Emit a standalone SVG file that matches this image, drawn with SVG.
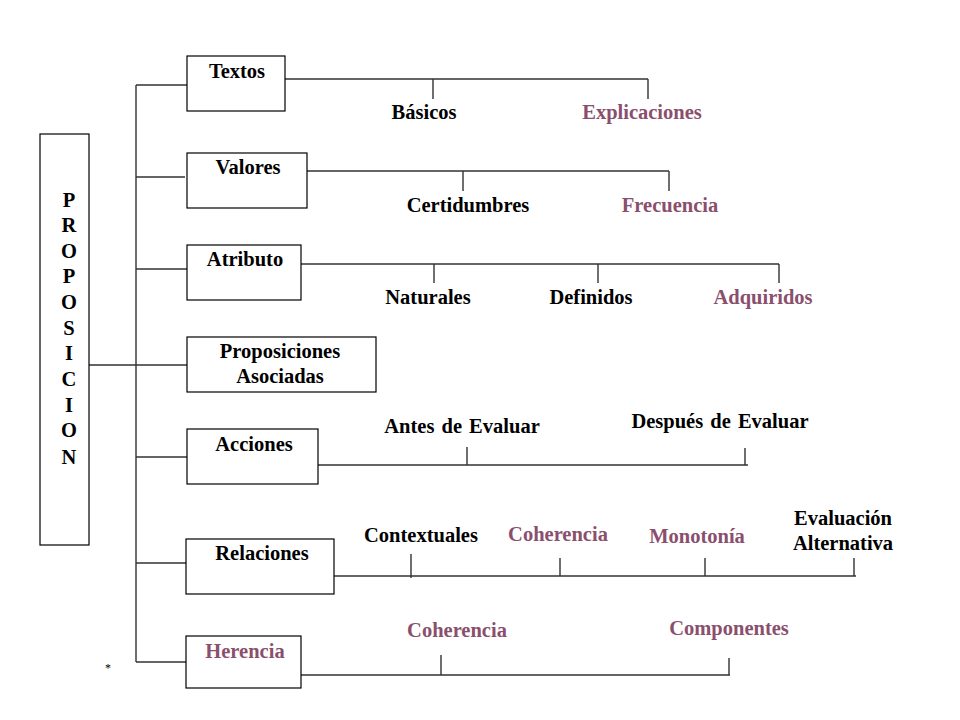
<svg xmlns="http://www.w3.org/2000/svg" width="960" height="720" viewBox="0 0 960 720">
<style>
.box{fill:#fff;stroke:#000;stroke-width:1.2}
.ln{stroke:#333;stroke-width:1.4;fill:none}
text{font-family:"Liberation Serif","Times New Roman",serif;font-weight:bold;font-size:20.5px;fill:#000;text-anchor:middle}
.p{fill:#8A4F6D}
</style>
<rect width="960" height="720" fill="#fff"/>
<g id="connectors">
<path class="ln" d="M136 85V662 M89 365H187 M136 85H187 M136 177H185 M136 269H187 M136 457H187 M136 563H186 M136 662H186"/>
<path class="ln" d="M285 79H648 M433 79V99 M648 79V99"/>
<path class="ln" d="M307 171H669 M463 171V191 M669 171V191"/>
<path class="ln" d="M301 264H779 M434 264V283 M598 264V283 M779 264V283"/>
<path class="ln" d="M318 465H748 M467 447V465 M745 448V465"/>
<path class="ln" d="M334 576H856 M411 554V578 M560 558V576 M705 558V576 M854 558V576"/>
<path class="ln" d="M301 675H730 M441 655V675 M729 658V675"/>
</g>
<g id="proposicion">
<rect class="box" x="40" y="134" width="49" height="411"/>
<text x="69" y="207">P</text>
<text x="69" y="232">R</text>
<text x="69" y="258">O</text>
<text x="69" y="283">P</text>
<text x="69" y="309">O</text>
<text x="69" y="335">S</text>
<text x="69" y="360">I</text>
<text x="69" y="386">C</text>
<text x="69" y="412">I</text>
<text x="69" y="437">O</text>
<text x="69" y="464">N</text>
</g>
<g id="textos"><rect class="box" x="187" y="56" width="98" height="55"/><text x="237" y="78">Textos</text></g>
<g id="valores"><rect class="box" x="187" y="153" width="120" height="55"/><text x="248" y="174">Valores</text></g>
<g id="atributo"><rect class="box" x="187" y="245" width="114" height="55"/><text x="245" y="266">Atributo</text></g>
<g id="proposiciones"><rect class="box" x="187" y="337" width="189" height="55"/><text x="280" y="358">Proposiciones</text><text x="280" y="383">Asociadas</text></g>
<g id="acciones"><rect class="box" x="187" y="429" width="131" height="55"/><text x="254" y="451">Acciones</text></g>
<g id="relaciones"><rect class="box" x="186" y="539" width="148" height="55"/><text x="262" y="560">Relaciones</text></g>
<g id="herencia"><rect class="box" x="186" y="636" width="115" height="52"/><text class="p" x="245" y="658">Herencia</text></g>
<g id="labels">
<text x="424" y="119">Básicos</text>
<text class="p" x="642" y="119">Explicaciones</text>
<text x="468" y="212">Certidumbres</text>
<text class="p" x="670" y="212">Frecuencia</text>
<text x="428" y="304">Naturales</text>
<text x="591" y="304">Definidos</text>
<text class="p" x="763" y="304">Adquiridos</text>
<text x="462" y="433" word-spacing="2">Antes de Evaluar</text>
<text x="720" y="428" word-spacing="2">Después de Evaluar</text>
<text x="421" y="542">Contextuales</text>
<text class="p" x="558" y="541">Coherencia</text>
<text class="p" x="697" y="543">Monotonía</text>
<text x="843" y="525">Evaluación</text>
<text x="843" y="550">Alternativa</text>
<text class="p" x="457" y="637">Coherencia</text>
<text class="p" x="729" y="635">Componentes</text>
</g>
<text x="108" y="672" style="font-size:12px;font-weight:normal">*</text>
</svg>
